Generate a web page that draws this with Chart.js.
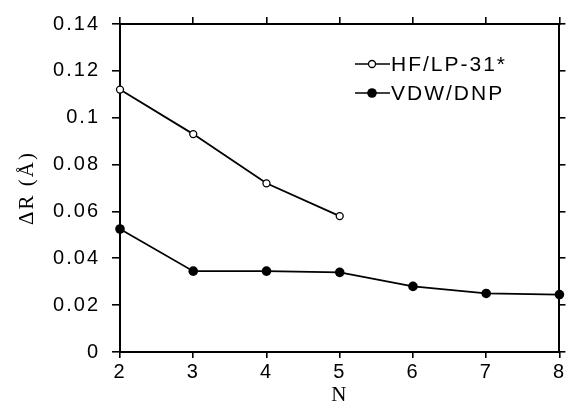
<!DOCTYPE html>
<html><head><meta charset="utf-8">
<script src="https://cdn.jsdelivr.net/npm/chart.js@4"></script>
<style>html,body{margin:0;padding:0;background:#fff}#wrap{width:567px;height:407px}</style>
</head><body><div id="wrap"><canvas id="c" width="567" height="407"></canvas></div>
<script>
const hfN = [2, 3, 4, 5];
const hfValues = [0.112, 0.093, 0.072, 0.058];
const vdwN = [2, 3, 4, 5, 6, 7, 8];
const vdwValues = [0.0525, 0.0345, 0.0345, 0.034, 0.028, 0.025, 0.0245];
const yTickLabels = ['0', '0.02', '0.04', '0.06', '0.08', '0.1', '0.12', '0.14'];
const xTickLabels = ['2', '3', '4', '5', '6', '7', '8'];
const seriesNames = ['HF/LP-31*', 'VDW/DNP'];
const xTitle = 'N';
const yTitle = 'ΔR (Å)';

const SANS = '"Liberation Sans", Arial, sans-serif';
const SERIF = '"Liberation Serif", "Times New Roman", serif';

const spacingPlugin = {
  id: 'spacing',
  beforeDraw(chart) { chart.ctx.letterSpacing = '2px'; },
  afterDraw(chart) { chart.ctx.letterSpacing = '0px'; }
};

const legendPlugin = {
  id: 'innerLegend',
  afterDraw(chart) {
    const ctx = chart.ctx, a = chart.chartArea;
    const rows = [
      { name: seriesNames[0], filled: false, r: 3.5, y: a.top + 40 },
      { name: seriesNames[1], filled: true, r: 4.8, y: a.top + 69 }
    ];
    ctx.save();
    ctx.letterSpacing = '2px';
    ctx.font = '21px ' + SANS;
    ctx.textBaseline = 'middle';
    ctx.textAlign = 'left';
    ctx.fillStyle = '#000';
    ctx.strokeStyle = '#000';
    rows.forEach(r => {
      ctx.lineWidth = 1.6;
      ctx.beginPath();
      ctx.moveTo(a.left + 235, r.y);
      ctx.lineTo(a.left + 270, r.y);
      ctx.stroke();
      ctx.beginPath();
      ctx.arc(a.left + 252, r.y, r.r, 0, Math.PI * 2);
      if (r.filled) { ctx.fill(); } else { ctx.fillStyle = '#fff'; ctx.fill(); ctx.fillStyle = '#000'; ctx.lineWidth = 1.3; ctx.stroke(); }
      ctx.fillText(r.name, a.left + 271, r.y + 1);
    });
    ctx.restore();
  }
};

const gridCommon = { drawOnChartArea: false, drawTicks: true, color: '#000', lineWidth: 1.6 };
const borderCommon = { display: true, color: '#000', width: 2 };

new Chart(document.getElementById('c'), {
  type: 'line',
  data: {
    datasets: [
      {
        label: seriesNames[0],
        data: hfN.map((n, i) => ({ x: n, y: hfValues[i] })),
        borderColor: '#000', borderWidth: 1.8, tension: 0,
        pointStyle: 'circle', pointRadius: 3.5, pointBorderWidth: 1.3,
        pointBackgroundColor: '#fff', pointBorderColor: '#000',
        clip: false
      },
      {
        label: seriesNames[1],
        data: vdwN.map((n, i) => ({ x: n, y: vdwValues[i] })),
        borderColor: '#000', borderWidth: 1.8, tension: 0,
        pointStyle: 'circle', pointRadius: 4.8, pointBorderWidth: 0,
        pointBackgroundColor: '#000', pointBorderColor: '#000',
        clip: false
      }
    ]
  },
  options: {
    responsive: false,
    animation: false,
    devicePixelRatio: 1,
    layout: { padding: 0 },
    plugins: { legend: { display: false }, tooltip: { enabled: false } },
    scales: {
      x: {
        type: 'linear', position: 'bottom', min: 2, max: 8,
        afterFit(s) { s.height = 55; },
        grid: Object.assign({}, gridCommon, { tickLength: 6 }),
        border: borderCommon,
        ticks: {
          stepSize: 1, padding: 2, color: '#000', font: { family: SANS, size: 20 },
          maxRotation: 0, autoSkip: false,
          callback: (v, i) => xTickLabels[i]
        },
        title: { display: true, text: xTitle, color: '#000', font: { family: SERIF, size: 21 }, padding: { top: 0, bottom: -1 } }
      },
      x2: {
        type: 'linear', position: 'top', min: 2, max: 8,
        afterFit(s) { s.height = 22; },
        grid: Object.assign({}, gridCommon, { tickLength: 7 }),
        border: borderCommon,
        ticks: { stepSize: 1, display: false }
      },
      y: {
        type: 'linear', position: 'left', min: 0, max: 0.14,
        afterFit(s) { s.width = 120; },
        grid: Object.assign({}, gridCommon, { tickLength: 8 }),
        border: borderCommon,
        ticks: {
          stepSize: 0.02, padding: 12, color: '#000', font: { family: SANS, size: 20 },
          callback: (v, i) => yTickLabels[i]
        },
        title: { display: true, text: yTitle, color: '#000', font: { family: SERIF, size: 21 }, padding: { top: 15, bottom: 0 } }
      },
      y2: {
        type: 'linear', position: 'right', min: 0, max: 0.14,
        afterFit(s) { s.width = 6; },
        grid: Object.assign({}, gridCommon, { tickLength: 6 }),
        border: borderCommon,
        ticks: { stepSize: 0.02, display: false }
      }
    }
  },
  plugins: [spacingPlugin, legendPlugin]
});
</script>
</body></html>
